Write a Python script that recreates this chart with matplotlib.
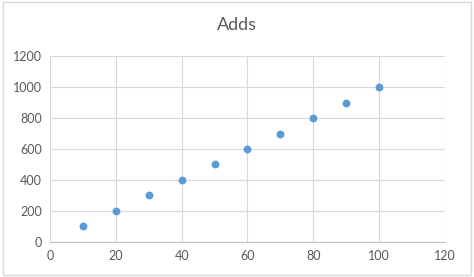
import matplotlib
matplotlib.use("Agg")
import matplotlib.pyplot as plt
from matplotlib.patches import Rectangle

plt.rcParams['font.family'] = ['Lato', 'DejaVu Sans']

x_vals = [10, 20, 30, 40, 50, 60, 70, 80, 90, 100]
y_vals = [100, 200, 300, 400, 500, 600, 700, 800, 900, 1000]
x_ticks = [0, 20, 40, 60, 80, 100, 120]
y_ticks = [0, 200, 400, 600, 800, 1000, 1200]

fig = plt.figure(figsize=(4.74, 2.77), dpi=100)
ax = fig.add_axes([0.1055, 0.1264, 0.8333, 0.6714])

# chart border like Excel
fig.patches.append(Rectangle((0.006, 0.008), 0.988, 0.984, transform=fig.transFigure,
                             fill=False, edgecolor="#D9D9D9", linewidth=1))

ax.scatter(x_vals, y_vals, s=32, color="#5B9BD5", zorder=3, linewidths=0)

ax.set_xlim(0, 120)
ax.set_ylim(0, 1200)
ax.set_xticks(x_ticks)
ax.set_yticks(y_ticks)
ax.grid(True, color="#D9D9D9", linewidth=0.8)
ax.set_axisbelow(True)
for side in ["top", "right", "left"]:
    ax.spines[side].set_visible(False)
ax.spines["bottom"].set_color("#BFBFBF")
ax.tick_params(length=0, labelsize=9, labelcolor="#595959", pad=6)

fig.text(0.5, 0.91, "Adds", ha="center", va="center", fontsize=13, color="#595959")

fig.savefig("out.png", dpi=100)
